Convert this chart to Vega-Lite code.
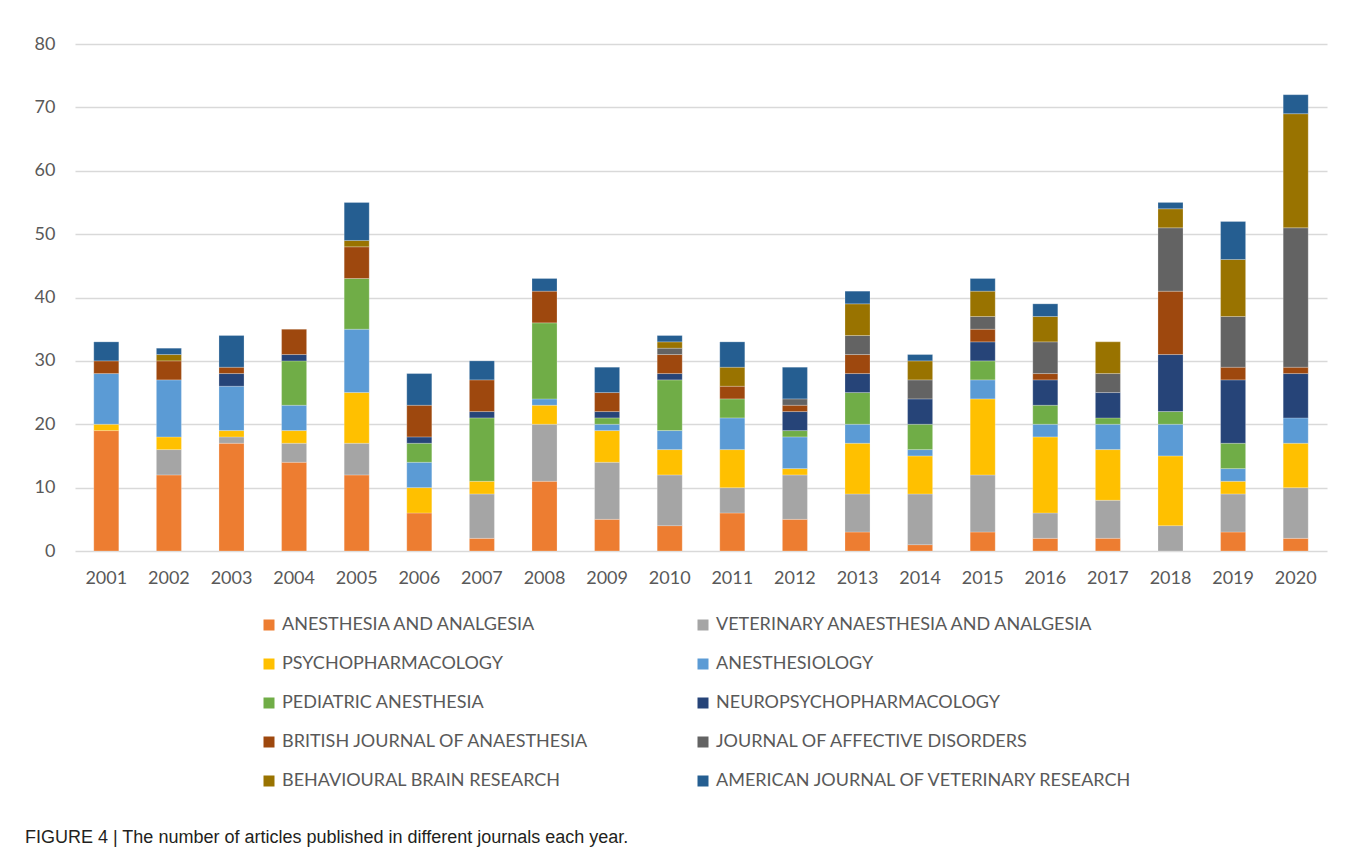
{
  "$schema": "https://vega.github.io/schema/vega-lite/v6.json",
  "width": 1252,
  "height": 507,
  "autosize": "none",
  "padding": {"left": 75, "top": 44, "right": 36, "bottom": 303},
  "background": "white",
  "title": {
    "text": "FIGURE 4 | The number of articles published in different journals each year.",
    "orient": "bottom",
    "anchor": "start",
    "frame": "group",
    "dx": -50,
    "offset": 39,
    "font": "Liberation Sans Narrow, Liberation Sans, Arial",
    "fontSize": 18,
    "fontWeight": "normal",
    "color": "#231f20"
  },
  "datasets": {
    "journals": [
      {"journal": "ANESTHESIA AND ANALGESIA", "rank": 1},
      {"journal": "VETERINARY ANAESTHESIA AND ANALGESIA", "rank": 2},
      {"journal": "PSYCHOPHARMACOLOGY", "rank": 3},
      {"journal": "ANESTHESIOLOGY", "rank": 4},
      {"journal": "PEDIATRIC ANESTHESIA", "rank": 5},
      {"journal": "NEUROPSYCHOPHARMACOLOGY", "rank": 6},
      {"journal": "BRITISH JOURNAL OF ANAESTHESIA", "rank": 7},
      {"journal": "JOURNAL OF AFFECTIVE DISORDERS", "rank": 8},
      {"journal": "BEHAVIOURAL BRAIN RESEARCH", "rank": 9},
      {"journal": "AMERICAN JOURNAL OF VETERINARY RESEARCH", "rank": 10}
    ],
    "articles": [
      {"year": "2001", "journal": "ANESTHESIA AND ANALGESIA", "n": 19},
      {"year": "2001", "journal": "PSYCHOPHARMACOLOGY", "n": 1},
      {"year": "2001", "journal": "ANESTHESIOLOGY", "n": 8},
      {"year": "2001", "journal": "BRITISH JOURNAL OF ANAESTHESIA", "n": 2},
      {"year": "2001", "journal": "AMERICAN JOURNAL OF VETERINARY RESEARCH", "n": 3},
      {"year": "2002", "journal": "ANESTHESIA AND ANALGESIA", "n": 12},
      {"year": "2002", "journal": "VETERINARY ANAESTHESIA AND ANALGESIA", "n": 4},
      {"year": "2002", "journal": "PSYCHOPHARMACOLOGY", "n": 2},
      {"year": "2002", "journal": "ANESTHESIOLOGY", "n": 9},
      {"year": "2002", "journal": "BRITISH JOURNAL OF ANAESTHESIA", "n": 3},
      {"year": "2002", "journal": "BEHAVIOURAL BRAIN RESEARCH", "n": 1},
      {"year": "2002", "journal": "AMERICAN JOURNAL OF VETERINARY RESEARCH", "n": 1},
      {"year": "2003", "journal": "ANESTHESIA AND ANALGESIA", "n": 17},
      {"year": "2003", "journal": "VETERINARY ANAESTHESIA AND ANALGESIA", "n": 1},
      {"year": "2003", "journal": "PSYCHOPHARMACOLOGY", "n": 1},
      {"year": "2003", "journal": "ANESTHESIOLOGY", "n": 7},
      {"year": "2003", "journal": "NEUROPSYCHOPHARMACOLOGY", "n": 2},
      {"year": "2003", "journal": "BRITISH JOURNAL OF ANAESTHESIA", "n": 1},
      {"year": "2003", "journal": "AMERICAN JOURNAL OF VETERINARY RESEARCH", "n": 5},
      {"year": "2004", "journal": "ANESTHESIA AND ANALGESIA", "n": 14},
      {"year": "2004", "journal": "VETERINARY ANAESTHESIA AND ANALGESIA", "n": 3},
      {"year": "2004", "journal": "PSYCHOPHARMACOLOGY", "n": 2},
      {"year": "2004", "journal": "ANESTHESIOLOGY", "n": 4},
      {"year": "2004", "journal": "PEDIATRIC ANESTHESIA", "n": 7},
      {"year": "2004", "journal": "NEUROPSYCHOPHARMACOLOGY", "n": 1},
      {"year": "2004", "journal": "BRITISH JOURNAL OF ANAESTHESIA", "n": 4},
      {"year": "2005", "journal": "ANESTHESIA AND ANALGESIA", "n": 12},
      {"year": "2005", "journal": "VETERINARY ANAESTHESIA AND ANALGESIA", "n": 5},
      {"year": "2005", "journal": "PSYCHOPHARMACOLOGY", "n": 8},
      {"year": "2005", "journal": "ANESTHESIOLOGY", "n": 10},
      {"year": "2005", "journal": "PEDIATRIC ANESTHESIA", "n": 8},
      {"year": "2005", "journal": "BRITISH JOURNAL OF ANAESTHESIA", "n": 5},
      {"year": "2005", "journal": "BEHAVIOURAL BRAIN RESEARCH", "n": 1},
      {"year": "2005", "journal": "AMERICAN JOURNAL OF VETERINARY RESEARCH", "n": 6},
      {"year": "2006", "journal": "ANESTHESIA AND ANALGESIA", "n": 6},
      {"year": "2006", "journal": "PSYCHOPHARMACOLOGY", "n": 4},
      {"year": "2006", "journal": "ANESTHESIOLOGY", "n": 4},
      {"year": "2006", "journal": "PEDIATRIC ANESTHESIA", "n": 3},
      {"year": "2006", "journal": "NEUROPSYCHOPHARMACOLOGY", "n": 1},
      {"year": "2006", "journal": "BRITISH JOURNAL OF ANAESTHESIA", "n": 5},
      {"year": "2006", "journal": "AMERICAN JOURNAL OF VETERINARY RESEARCH", "n": 5},
      {"year": "2007", "journal": "ANESTHESIA AND ANALGESIA", "n": 2},
      {"year": "2007", "journal": "VETERINARY ANAESTHESIA AND ANALGESIA", "n": 7},
      {"year": "2007", "journal": "PSYCHOPHARMACOLOGY", "n": 2},
      {"year": "2007", "journal": "PEDIATRIC ANESTHESIA", "n": 10},
      {"year": "2007", "journal": "NEUROPSYCHOPHARMACOLOGY", "n": 1},
      {"year": "2007", "journal": "BRITISH JOURNAL OF ANAESTHESIA", "n": 5},
      {"year": "2007", "journal": "AMERICAN JOURNAL OF VETERINARY RESEARCH", "n": 3},
      {"year": "2008", "journal": "ANESTHESIA AND ANALGESIA", "n": 11},
      {"year": "2008", "journal": "VETERINARY ANAESTHESIA AND ANALGESIA", "n": 9},
      {"year": "2008", "journal": "PSYCHOPHARMACOLOGY", "n": 3},
      {"year": "2008", "journal": "ANESTHESIOLOGY", "n": 1},
      {"year": "2008", "journal": "PEDIATRIC ANESTHESIA", "n": 12},
      {"year": "2008", "journal": "BRITISH JOURNAL OF ANAESTHESIA", "n": 5},
      {"year": "2008", "journal": "AMERICAN JOURNAL OF VETERINARY RESEARCH", "n": 2},
      {"year": "2009", "journal": "ANESTHESIA AND ANALGESIA", "n": 5},
      {"year": "2009", "journal": "VETERINARY ANAESTHESIA AND ANALGESIA", "n": 9},
      {"year": "2009", "journal": "PSYCHOPHARMACOLOGY", "n": 5},
      {"year": "2009", "journal": "ANESTHESIOLOGY", "n": 1},
      {"year": "2009", "journal": "PEDIATRIC ANESTHESIA", "n": 1},
      {"year": "2009", "journal": "NEUROPSYCHOPHARMACOLOGY", "n": 1},
      {"year": "2009", "journal": "BRITISH JOURNAL OF ANAESTHESIA", "n": 3},
      {"year": "2009", "journal": "AMERICAN JOURNAL OF VETERINARY RESEARCH", "n": 4},
      {"year": "2010", "journal": "ANESTHESIA AND ANALGESIA", "n": 4},
      {"year": "2010", "journal": "VETERINARY ANAESTHESIA AND ANALGESIA", "n": 8},
      {"year": "2010", "journal": "PSYCHOPHARMACOLOGY", "n": 4},
      {"year": "2010", "journal": "ANESTHESIOLOGY", "n": 3},
      {"year": "2010", "journal": "PEDIATRIC ANESTHESIA", "n": 8},
      {"year": "2010", "journal": "NEUROPSYCHOPHARMACOLOGY", "n": 1},
      {"year": "2010", "journal": "BRITISH JOURNAL OF ANAESTHESIA", "n": 3},
      {"year": "2010", "journal": "JOURNAL OF AFFECTIVE DISORDERS", "n": 1},
      {"year": "2010", "journal": "BEHAVIOURAL BRAIN RESEARCH", "n": 1},
      {"year": "2010", "journal": "AMERICAN JOURNAL OF VETERINARY RESEARCH", "n": 1},
      {"year": "2011", "journal": "ANESTHESIA AND ANALGESIA", "n": 6},
      {"year": "2011", "journal": "VETERINARY ANAESTHESIA AND ANALGESIA", "n": 4},
      {"year": "2011", "journal": "PSYCHOPHARMACOLOGY", "n": 6},
      {"year": "2011", "journal": "ANESTHESIOLOGY", "n": 5},
      {"year": "2011", "journal": "PEDIATRIC ANESTHESIA", "n": 3},
      {"year": "2011", "journal": "BRITISH JOURNAL OF ANAESTHESIA", "n": 2},
      {"year": "2011", "journal": "BEHAVIOURAL BRAIN RESEARCH", "n": 3},
      {"year": "2011", "journal": "AMERICAN JOURNAL OF VETERINARY RESEARCH", "n": 4},
      {"year": "2012", "journal": "ANESTHESIA AND ANALGESIA", "n": 5},
      {"year": "2012", "journal": "VETERINARY ANAESTHESIA AND ANALGESIA", "n": 7},
      {"year": "2012", "journal": "PSYCHOPHARMACOLOGY", "n": 1},
      {"year": "2012", "journal": "ANESTHESIOLOGY", "n": 5},
      {"year": "2012", "journal": "PEDIATRIC ANESTHESIA", "n": 1},
      {"year": "2012", "journal": "NEUROPSYCHOPHARMACOLOGY", "n": 3},
      {"year": "2012", "journal": "BRITISH JOURNAL OF ANAESTHESIA", "n": 1},
      {"year": "2012", "journal": "JOURNAL OF AFFECTIVE DISORDERS", "n": 1},
      {"year": "2012", "journal": "AMERICAN JOURNAL OF VETERINARY RESEARCH", "n": 5},
      {"year": "2013", "journal": "ANESTHESIA AND ANALGESIA", "n": 3},
      {"year": "2013", "journal": "VETERINARY ANAESTHESIA AND ANALGESIA", "n": 6},
      {"year": "2013", "journal": "PSYCHOPHARMACOLOGY", "n": 8},
      {"year": "2013", "journal": "ANESTHESIOLOGY", "n": 3},
      {"year": "2013", "journal": "PEDIATRIC ANESTHESIA", "n": 5},
      {"year": "2013", "journal": "NEUROPSYCHOPHARMACOLOGY", "n": 3},
      {"year": "2013", "journal": "BRITISH JOURNAL OF ANAESTHESIA", "n": 3},
      {"year": "2013", "journal": "JOURNAL OF AFFECTIVE DISORDERS", "n": 3},
      {"year": "2013", "journal": "BEHAVIOURAL BRAIN RESEARCH", "n": 5},
      {"year": "2013", "journal": "AMERICAN JOURNAL OF VETERINARY RESEARCH", "n": 2},
      {"year": "2014", "journal": "ANESTHESIA AND ANALGESIA", "n": 1},
      {"year": "2014", "journal": "VETERINARY ANAESTHESIA AND ANALGESIA", "n": 8},
      {"year": "2014", "journal": "PSYCHOPHARMACOLOGY", "n": 6},
      {"year": "2014", "journal": "ANESTHESIOLOGY", "n": 1},
      {"year": "2014", "journal": "PEDIATRIC ANESTHESIA", "n": 4},
      {"year": "2014", "journal": "NEUROPSYCHOPHARMACOLOGY", "n": 4},
      {"year": "2014", "journal": "JOURNAL OF AFFECTIVE DISORDERS", "n": 3},
      {"year": "2014", "journal": "BEHAVIOURAL BRAIN RESEARCH", "n": 3},
      {"year": "2014", "journal": "AMERICAN JOURNAL OF VETERINARY RESEARCH", "n": 1},
      {"year": "2015", "journal": "ANESTHESIA AND ANALGESIA", "n": 3},
      {"year": "2015", "journal": "VETERINARY ANAESTHESIA AND ANALGESIA", "n": 9},
      {"year": "2015", "journal": "PSYCHOPHARMACOLOGY", "n": 12},
      {"year": "2015", "journal": "ANESTHESIOLOGY", "n": 3},
      {"year": "2015", "journal": "PEDIATRIC ANESTHESIA", "n": 3},
      {"year": "2015", "journal": "NEUROPSYCHOPHARMACOLOGY", "n": 3},
      {"year": "2015", "journal": "BRITISH JOURNAL OF ANAESTHESIA", "n": 2},
      {"year": "2015", "journal": "JOURNAL OF AFFECTIVE DISORDERS", "n": 2},
      {"year": "2015", "journal": "BEHAVIOURAL BRAIN RESEARCH", "n": 4},
      {"year": "2015", "journal": "AMERICAN JOURNAL OF VETERINARY RESEARCH", "n": 2},
      {"year": "2016", "journal": "ANESTHESIA AND ANALGESIA", "n": 2},
      {"year": "2016", "journal": "VETERINARY ANAESTHESIA AND ANALGESIA", "n": 4},
      {"year": "2016", "journal": "PSYCHOPHARMACOLOGY", "n": 12},
      {"year": "2016", "journal": "ANESTHESIOLOGY", "n": 2},
      {"year": "2016", "journal": "PEDIATRIC ANESTHESIA", "n": 3},
      {"year": "2016", "journal": "NEUROPSYCHOPHARMACOLOGY", "n": 4},
      {"year": "2016", "journal": "BRITISH JOURNAL OF ANAESTHESIA", "n": 1},
      {"year": "2016", "journal": "JOURNAL OF AFFECTIVE DISORDERS", "n": 5},
      {"year": "2016", "journal": "BEHAVIOURAL BRAIN RESEARCH", "n": 4},
      {"year": "2016", "journal": "AMERICAN JOURNAL OF VETERINARY RESEARCH", "n": 2},
      {"year": "2017", "journal": "ANESTHESIA AND ANALGESIA", "n": 2},
      {"year": "2017", "journal": "VETERINARY ANAESTHESIA AND ANALGESIA", "n": 6},
      {"year": "2017", "journal": "PSYCHOPHARMACOLOGY", "n": 8},
      {"year": "2017", "journal": "ANESTHESIOLOGY", "n": 4},
      {"year": "2017", "journal": "PEDIATRIC ANESTHESIA", "n": 1},
      {"year": "2017", "journal": "NEUROPSYCHOPHARMACOLOGY", "n": 4},
      {"year": "2017", "journal": "JOURNAL OF AFFECTIVE DISORDERS", "n": 3},
      {"year": "2017", "journal": "BEHAVIOURAL BRAIN RESEARCH", "n": 5},
      {"year": "2018", "journal": "VETERINARY ANAESTHESIA AND ANALGESIA", "n": 4},
      {"year": "2018", "journal": "PSYCHOPHARMACOLOGY", "n": 11},
      {"year": "2018", "journal": "ANESTHESIOLOGY", "n": 5},
      {"year": "2018", "journal": "PEDIATRIC ANESTHESIA", "n": 2},
      {"year": "2018", "journal": "NEUROPSYCHOPHARMACOLOGY", "n": 9},
      {"year": "2018", "journal": "BRITISH JOURNAL OF ANAESTHESIA", "n": 10},
      {"year": "2018", "journal": "JOURNAL OF AFFECTIVE DISORDERS", "n": 10},
      {"year": "2018", "journal": "BEHAVIOURAL BRAIN RESEARCH", "n": 3},
      {"year": "2018", "journal": "AMERICAN JOURNAL OF VETERINARY RESEARCH", "n": 1},
      {"year": "2019", "journal": "ANESTHESIA AND ANALGESIA", "n": 3},
      {"year": "2019", "journal": "VETERINARY ANAESTHESIA AND ANALGESIA", "n": 6},
      {"year": "2019", "journal": "PSYCHOPHARMACOLOGY", "n": 2},
      {"year": "2019", "journal": "ANESTHESIOLOGY", "n": 2},
      {"year": "2019", "journal": "PEDIATRIC ANESTHESIA", "n": 4},
      {"year": "2019", "journal": "NEUROPSYCHOPHARMACOLOGY", "n": 10},
      {"year": "2019", "journal": "BRITISH JOURNAL OF ANAESTHESIA", "n": 2},
      {"year": "2019", "journal": "JOURNAL OF AFFECTIVE DISORDERS", "n": 8},
      {"year": "2019", "journal": "BEHAVIOURAL BRAIN RESEARCH", "n": 9},
      {"year": "2019", "journal": "AMERICAN JOURNAL OF VETERINARY RESEARCH", "n": 6},
      {"year": "2020", "journal": "ANESTHESIA AND ANALGESIA", "n": 2},
      {"year": "2020", "journal": "VETERINARY ANAESTHESIA AND ANALGESIA", "n": 8},
      {"year": "2020", "journal": "PSYCHOPHARMACOLOGY", "n": 7},
      {"year": "2020", "journal": "ANESTHESIOLOGY", "n": 4},
      {"year": "2020", "journal": "NEUROPSYCHOPHARMACOLOGY", "n": 7},
      {"year": "2020", "journal": "BRITISH JOURNAL OF ANAESTHESIA", "n": 1},
      {"year": "2020", "journal": "JOURNAL OF AFFECTIVE DISORDERS", "n": 22},
      {"year": "2020", "journal": "BEHAVIOURAL BRAIN RESEARCH", "n": 18},
      {"year": "2020", "journal": "AMERICAN JOURNAL OF VETERINARY RESEARCH", "n": 3}
    ]
  },
  "data": {"name": "articles"},
  "transform": [
    {"lookup": "journal", "from": {"data": {"name": "journals"}, "key": "journal", "fields": ["rank"]}}
  ],
  "mark": {"type": "bar", "stroke": "white", "strokeWidth": 0.4, "strokeOpacity": 0.6},
  "encoding": {
    "x": {
      "field": "year",
      "type": "ordinal",
      "scale": {"paddingInner": 0.6, "paddingOuter": 0.3},
      "axis": {
        "title": null,
        "labelAngle": 0,
        "domain": false,
        "ticks": false,
        "labelFont": "Lato",
        "labelFontSize": 18,
        "labelColor": "#595959",
        "labelPadding": 18
      }
    },
    "y": {
      "field": "n",
      "type": "quantitative",
      "stack": "zero",
      "scale": {"domain": [0, 80]},
      "axis": {
        "title": null,
        "values": [0, 10, 20, 30, 40, 50, 60, 70, 80],
        "domain": false,
        "ticks": false,
        "gridColor": "#d9d9d9",
        "gridWidth": 1.3,
        "labelFont": "Lato",
        "labelFontSize": 18,
        "labelColor": "#595959",
        "labelPadding": 20
      }
    },
    "order": {"field": "rank", "type": "quantitative", "sort": "ascending"},
    "color": {
      "field": "journal",
      "type": "nominal",
      "scale": {
        "domain": [
          "ANESTHESIA AND ANALGESIA",
          "VETERINARY ANAESTHESIA AND ANALGESIA",
          "PSYCHOPHARMACOLOGY",
          "ANESTHESIOLOGY",
          "PEDIATRIC ANESTHESIA",
          "NEUROPSYCHOPHARMACOLOGY",
          "BRITISH JOURNAL OF ANAESTHESIA",
          "JOURNAL OF AFFECTIVE DISORDERS",
          "BEHAVIOURAL BRAIN RESEARCH",
          "AMERICAN JOURNAL OF VETERINARY RESEARCH"
        ],
        "range": ["#ED7D31", "#A5A5A5", "#FFC000", "#5B9BD5", "#70AD47", "#264478", "#9E480E", "#636363", "#997300", "#255E91"]
      },
      "legend": {
        "title": null,
        "orient": "none",
        "legendX": 185,
        "legendY": 572,
        "direction": "horizontal",
        "columns": 2,
        "columnPadding": 104,
        "rowPadding": 21,
        "padding": 0,
        "symbolType": "square",
        "symbolSize": 121,
        "symbolStrokeWidth": 0,
        "labelOffset": 4,
        "labelFont": "Lato",
        "labelFontSize": 18,
        "labelColor": "#595959",
        "labelLimit": 600
      }
    }
  },
  "config": {
    "view": {"stroke": null},
    "axisX": {"grid": false}
  }
}
